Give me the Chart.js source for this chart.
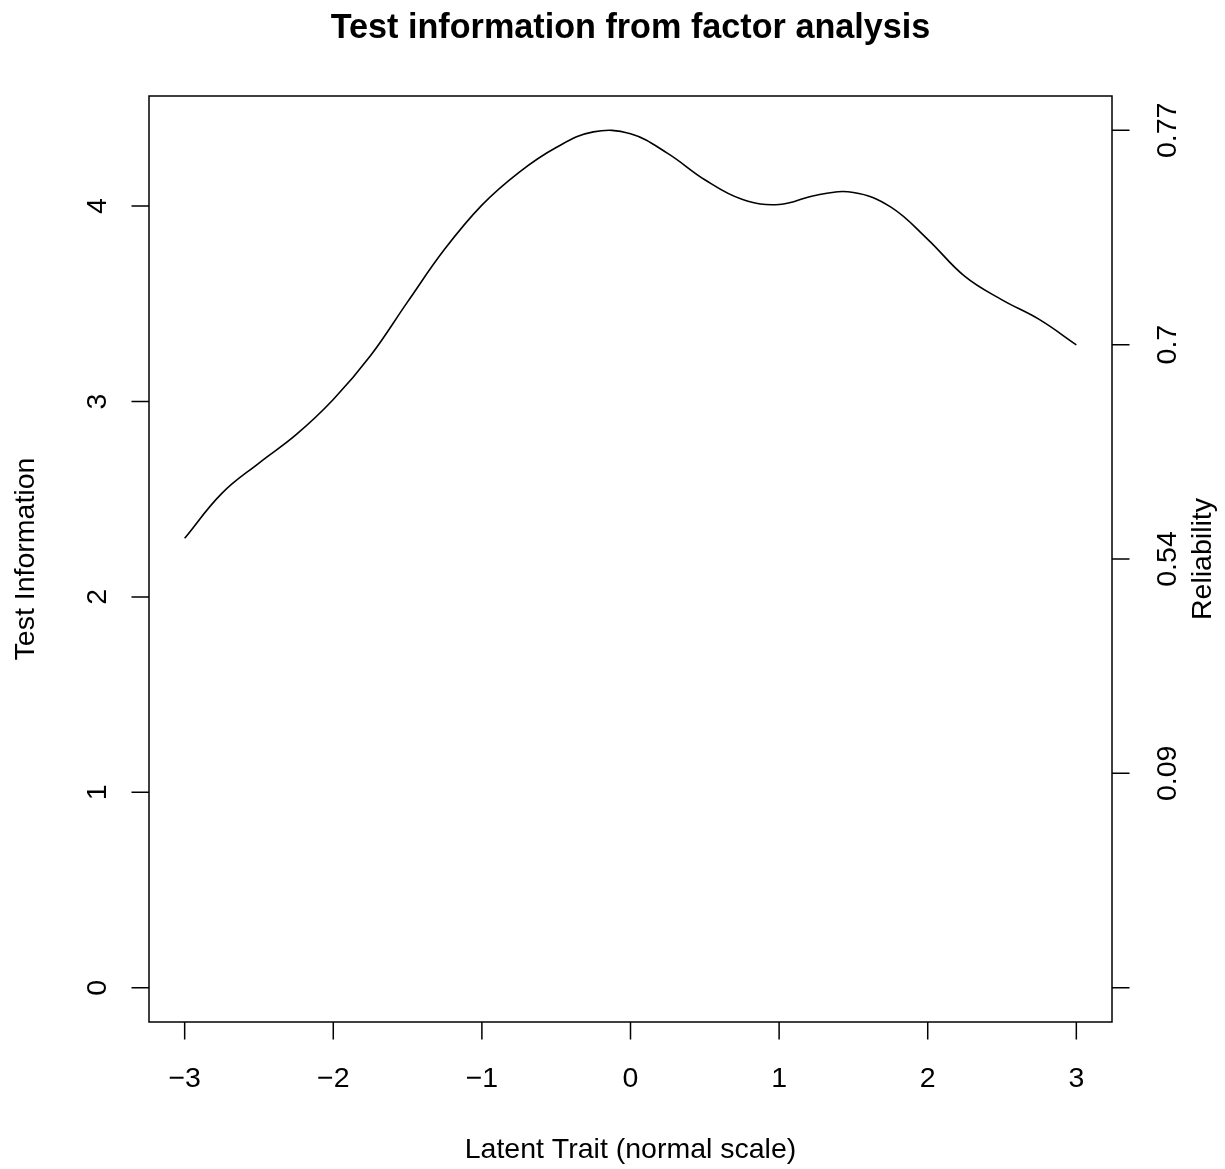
<!DOCTYPE html>
<html>
<head>
<meta charset="utf-8">
<script src="https://cdn.jsdelivr.net/npm/chart.js@4/dist/chart.umd.min.js"></script>
<style>
html,body{margin:0;padding:0;background:#fff;}
canvas{display:block;}
</style>
</head>
<body>
<canvas id="c" width="1225" height="1169"></canvas>
<script>
// ---- data ----
const thetaValues = [-3, -2.75, -2.5, -2.25, -2, -1.75, -1.5, -1.25, -1, -0.75, -0.5, -0.25, 0, 0.25, 0.5, 0.75, 1, 1.25, 1.5, 1.75, 2, 2.25, 2.5, 2.75, 3];
const testInformation = [2.30, 2.53, 2.685, 2.83, 3.01, 3.234, 3.51, 3.78, 4.005, 4.173, 4.30, 4.38, 4.37, 4.27, 4.135, 4.035, 4.008, 4.056, 4.07, 3.996, 3.83, 3.64, 3.52, 3.42, 3.29];
const xTickValues = [-3, -2, -1, 0, 1, 2, 3];
const xTickLabels = ['\u22123', '\u22122', '\u22121', '0', '1', '2', '3'];
const yTickValues = [0, 1, 2, 3, 4];
const yTickLabels = ['0', '1', '2', '3', '4'];
const reliabilityTickValues = [0, 1.097, 2.194, 3.291, 4.388];
const reliabilityTickLabels = ['', '0.09', '0.54', '0.7', '0.77'];
const chartTitle = 'Test information from factor analysis';
const xAxisTitle = 'Latent Trait (normal scale)';
const yAxisTitle = 'Test Information';
const y2AxisTitle = 'Reliability';

const FONT = '"Liberation Sans", Arial, Helvetica, sans-serif';
const FS = 28.5;

const rAxes = {
  id: 'rAxes',
  afterDraw(chart) {
    const ctx = chart.ctx, a = chart.chartArea;
    const xs = chart.scales.x, ys = chart.scales.y;
    ctx.save();
    ctx.strokeStyle = '#000';
    ctx.fillStyle = '#000';
    ctx.lineWidth = 1.5;
    ctx.strokeRect(a.left, a.top, a.right - a.left, a.bottom - a.top);
    const tl = 17.5;
    ctx.beginPath();
    xTickValues.forEach(v => {
      const px = xs.getPixelForValue(v);
      ctx.moveTo(px, a.bottom); ctx.lineTo(px, a.bottom + tl);
    });
    yTickValues.forEach(v => {
      const py = ys.getPixelForValue(v);
      ctx.moveTo(a.left, py); ctx.lineTo(a.left - tl, py);
    });
    reliabilityTickValues.forEach(v => {
      const py = ys.getPixelForValue(v);
      ctx.moveTo(a.right, py); ctx.lineTo(a.right + tl, py);
    });
    ctx.stroke();

    ctx.font = FS + 'px ' + FONT;
    ctx.textAlign = 'center';
    ctx.textBaseline = 'alphabetic';
    xTickValues.forEach((v, i) => {
      ctx.fillText(xTickLabels[i], xs.getPixelForValue(v), 1087);
    });
    const cx = (a.left + a.right) / 2, cy = (a.top + a.bottom) / 2;
    ctx.fillText(xAxisTitle, cx, 1158);
    const rot = (text, x, y) => {
      ctx.save(); ctx.translate(x, y); ctx.rotate(-Math.PI / 2);
      ctx.fillText(text, 0, 0); ctx.restore();
    };
    yTickValues.forEach((v, i) => rot(yTickLabels[i], 106, ys.getPixelForValue(v)));
    rot(yAxisTitle, 34, cy);
    reliabilityTickValues.forEach((v, i) => rot(reliabilityTickLabels[i], 1176, ys.getPixelForValue(v)));
    rot(y2AxisTitle, 1211, cy);
    ctx.font = 'bold ' + (FS * 1.2) + 'px ' + FONT;
    ctx.fillText(chartTitle, cx, 38);
    ctx.restore();
  }
};

new Chart(document.getElementById('c'), {
  type: 'line',
  data: {
    datasets: [{
      data: thetaValues.map((t, i) => ({ x: t, y: testInformation[i] })),
      borderColor: '#000',
      borderWidth: 1.6,
      pointRadius: 0,
      tension: 0.4,
      fill: false
    }]
  },
  options: {
    responsive: false,
    animation: false,
    devicePixelRatio: 1,
    layout: { padding: { left: 149, top: 96, right: 113, bottom: 147 } },
    plugins: { legend: { display: false }, title: { display: false }, tooltip: { enabled: false } },
    scales: {
      x: { type: 'linear', min: -3.24, max: 3.24, display: false },
      y: { type: 'linear', min: -0.1755, max: 4.5635, display: false }
    }
  },
  plugins: [rAxes]
});
</script>
</body>
</html>
